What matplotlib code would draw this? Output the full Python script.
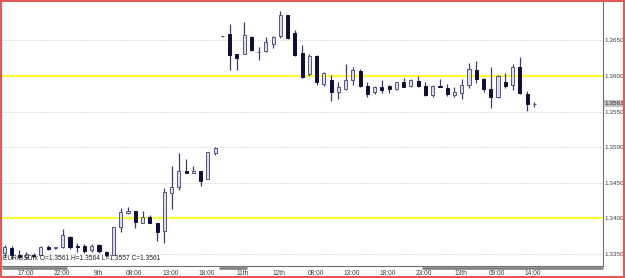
import numpy as np
import matplotlib
matplotlib.use("Agg")
import matplotlib.pyplot as plt
import matplotlib.transforms as mtransforms
from matplotlib.patches import Rectangle

# hourly EUR/USD candles
opens = [1.33510, 1.33580, 1.33486, 1.33462, 1.33486, 1.33486, 1.33598, 1.33577, 1.33594, 1.33743,
         1.33612, 1.33612, 1.33556, 1.33626, 1.33528, 1.33486, 1.33875, 1.34072, 1.34104, 1.33940,
         1.34024, 1.33931, 1.33827, 1.34361, 1.34445, 1.34670, 1.34642, 1.34670, 1.34549, 1.34914,
         1.36555, 1.36586, 1.36302, 1.36305, 1.36552, 1.36330, 1.36351, 1.36449, 1.36566, 1.36850,
         1.36600, 1.36319, 1.36028, 1.36281, 1.35888, 1.35944, 1.35773, 1.35824, 1.35940, 1.36073,
         1.35855, 1.35780, 1.35846, 1.35860, 1.35813, 1.35920, 1.35855, 1.35934, 1.35860, 1.35726,
         1.35860, 1.35838, 1.35733, 1.35754, 1.35874, 1.36084, 1.35954, 1.35813, 1.35708, 1.35920,
         1.35874, 1.36122, 1.35747, 1.35610]
highs = [1.33626, 1.33612, 1.33556, 1.33532, 1.33510, 1.33612, 1.33622, 1.33603, 1.33847, 1.33757,
         1.33650, 1.33636, 1.33636, 1.33636, 1.33542, 1.33875, 1.34142, 1.34164, 1.34108, 1.34104,
         1.34048, 1.33940, 1.34423, 1.34736, 1.34914, 1.34830, 1.34736, 1.34670, 1.34937, 1.35007,
         1.36560, 1.36730, 1.36305, 1.36763, 1.36566, 1.36412, 1.36544, 1.36566, 1.36913, 1.36857,
         1.36646, 1.36435, 1.36313, 1.36295, 1.36060, 1.36007, 1.35916, 1.36169, 1.36126, 1.36091,
         1.35909, 1.35860, 1.35944, 1.35874, 1.35920, 1.35975, 1.35955, 1.36000, 1.35916, 1.35878,
         1.35955, 1.35892, 1.35850, 1.35954, 1.36178, 1.36208, 1.35968, 1.36126, 1.36014, 1.36042,
         1.36169, 1.36263, 1.35789, 1.35640]
lows = [1.33458, 1.33430, 1.33430, 1.33430, 1.33462, 1.33486, 1.33556, 1.33566, 1.33580, 1.33574,
        1.33532, 1.33518, 1.33532, 1.33518, 1.33454, 1.33486, 1.33813, 1.34062, 1.33861, 1.33931,
        1.33931, 1.33687, 1.33650, 1.34128, 1.34399, 1.34642, 1.34642, 1.34455, 1.34549, 1.34890,
        1.36550, 1.36084, 1.36080, 1.36305, 1.36351, 1.36225, 1.36341, 1.36397, 1.36538, 1.36520,
        1.36285, 1.35972, 1.36000, 1.35867, 1.35855, 1.35653, 1.35673, 1.35796, 1.35867, 1.35846,
        1.35705, 1.35747, 1.35765, 1.35761, 1.35803, 1.35841, 1.35841, 1.35841, 1.35719, 1.35709,
        1.35841, 1.35715, 1.35705, 1.35680, 1.35838, 1.35897, 1.35768, 1.35546, 1.35687, 1.35834,
        1.35796, 1.35744, 1.35506, 1.35570]
closes = [1.33594, 1.33486, 1.33454, 1.33500, 1.33472, 1.33603, 1.33570, 1.33591, 1.33767, 1.33603,
          1.33594, 1.33542, 1.33617, 1.33546, 1.33486, 1.33875, 1.34094, 1.34108, 1.33954, 1.34024,
          1.33940, 1.33813, 1.34375, 1.34437, 1.34670, 1.34642, 1.34670, 1.34529, 1.34937, 1.34984,
          1.36555, 1.36291, 1.36246, 1.36569, 1.36365, 1.36340, 1.36473, 1.36552, 1.36857, 1.36538,
          1.36295, 1.35986, 1.36274, 1.35920, 1.36046, 1.35780, 1.35841, 1.35944, 1.36084, 1.35860,
          1.35751, 1.35841, 1.35799, 1.35817, 1.35917, 1.35850, 1.35937, 1.35860, 1.35733, 1.35855,
          1.35843, 1.35740, 1.35780, 1.35874, 1.36101, 1.35954, 1.35813, 1.35705, 1.36000, 1.35860,
          1.36122, 1.35757, 1.35607, 1.35610]

time_labels = ["17:00", "22:00", "9th", "08:00", "13:00", "18:00", "11th", "12th",
               "08:00", "13:00", "18:00", "23:00", "13th", "09:00", "14:00"]
price_levels = [1.3350, 1.3400, 1.3450, 1.3500, 1.3550, 1.3600, 1.3650]
user_lines = [1.3400, 1.3600]
last_price = 1.3561
info_text = "EUR/USDfx O=1.3561 H=1.3564 L=1.3557 C=1.3561"
# day separator bars under the time axis (candle index ranges)
sep_ranges = [(-0.4, 8.55), (29.5, 33.4), (57.5, 82.5)]

plt.rcParams["font.family"] = ["Liberation Sans", "DejaVu Sans"]

fig = plt.figure(figsize=(6.25, 2.78), dpi=100)
ax = fig.add_axes([0.0032, 0.0432, 0.9616, 0.9496])

o = np.array(opens); h = np.array(highs); l = np.array(lows); c = np.array(closes)
x = np.arange(len(o))
bull = c >= o

for lv in price_levels:
    ax.axhline(lv, color="#b8b8b8", lw=0.6, ls=(0, (1, 2)), zorder=0)
for lv in user_lines:
    ax.axhline(lv, color="#ffff33", lw=1.6, zorder=1)

ax.vlines(x, l, h, color="#3c3c6e", lw=0.9, zorder=2)
body_lo = np.minimum(o, c)
body_h = np.maximum(np.abs(c - o), 0.00003)
ax.bar(x[bull], body_h[bull], bottom=body_lo[bull], width=0.42,
       color="#dcdcec", edgecolor="#55557f", lw=0.7, zorder=3)
ax.bar(x[~bull], body_h[~bull], bottom=body_lo[~bull], width=0.42,
       color="#0e0e38", edgecolor="#0e0e38", lw=0.7, zorder=3)

ax.set_xlim(-0.37, 82.47)
ax.set_ylim(1.33331, 1.37039)

ax.yaxis.tick_right()
ax.set_yticks(price_levels)
ax.set_yticklabels(["%.4f" % v for v in price_levels])
ax.tick_params(axis="y", length=0, pad=1.2, labelsize=4.6, labelcolor="#404040")
ax.set_xticks(np.arange(2, len(o), 5) + 0.85)
ax.set_xticklabels(time_labels)
ax.tick_params(axis="x", length=0, pad=3.2, labelsize=4.8, labelcolor="#404040")

for s in ["top", "left"]:
    ax.spines[s].set_visible(False)
for s in ["right", "bottom"]:
    ax.spines[s].set_color("#707070")
    ax.spines[s].set_linewidth(0.8)

trans = mtransforms.blended_transform_factory(ax.transData, ax.transAxes)
for a, b in sep_ranges:
    ax.plot([a, b], [-0.009, -0.009], color="#7a7a7a", lw=1.8,
            transform=trans, clip_on=False, solid_capstyle="butt")

ax.text(0.002, 0.028, info_text, transform=ax.transAxes, fontsize=4.8,
        color="#202020", va="center", ha="left")

ytrans = mtransforms.blended_transform_factory(ax.transAxes, ax.transData)
ax.text(1.003, last_price, "%.4f" % last_price, transform=ytrans, fontsize=4.6,
        color="#303030", va="center", ha="left",
        bbox=dict(facecolor="#c4c4c4", edgecolor="none", pad=0.6))

fig.patches.append(Rectangle((0.001, 0.002), 0.997, 0.995, transform=fig.transFigure,
                             fill=False, edgecolor="#e05a5a", lw=1.5))

fig.savefig("out.png", dpi=100)
